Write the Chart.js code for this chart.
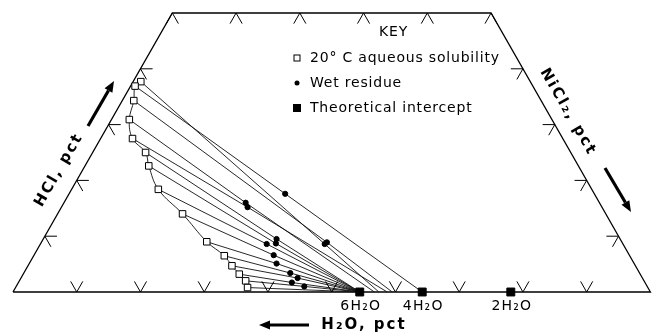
<!DOCTYPE html>
<html>
<head>
<meta charset="utf-8">
<script src="https://cdn.jsdelivr.net/npm/chart.js@4.4.1/dist/chart.umd.min.js"></script>
<style>
  html, body { margin: 0; background: #fff; }
</style>
</head>
<body>
<canvas id="phase" width="657" height="335"></canvas>
<script>
// 20 C aqueous solubility (liquid phase), pct by weight
const liqHCl   = [37.7, 36.9, 34.3, 30.9, 27.5, 25.0, 22.6, 18.4, 14.0, 9.0, 6.5, 4.7, 3.2, 2.0, 0.8];
const liqNiCl2 = [1.2, 0.7, 1.8, 2.8, 5.0, 8.3, 10.0, 13.6, 19.6, 25.9, 29.9, 32.0, 33.9, 35.5, 36.4];

// wet residue for each liquid (null = not shown)
const resHCl   = [8.6, 17.6, 8.9, 16.0, 15.2, 9.5, 8.7, 8.6, 6.6, 5.1, 3.4, 2.5, 1.7, 1.0, null];
const resNiCl2 = [44.6, 33.9, 44.8, 28.5, 29.2, 36.6, 36.9, 35.5, 37.6, 38.8, 41.8, 43.4, 42.9, 45.2, null];

// where each tie line reaches the HCl-free base, NiCl2 pct
const tieEnd = [57.4, 64.2, 59.5, 56.7, 58.7, 54.4, 54.4, 54.4, 54.4, 54.4, 54.4, 54.4, 54.4, 54.4, 54.4];

// theoretical hydrate intercepts
const hydrateLabels = ["6H₂O", "4H₂O", "2H₂O"];
const hydrateNiCl2  = [54.4, 64.2, 78.1];

// tick positions (pct)
const baseTicks = [10, 20, 30, 40, 50, 60, 70, 80, 90];
const topTicks  = [0, 10, 20, 30, 40, 50];
const sideTicks = [10, 20, 30, 40];

const S = Math.sqrt(3) / 2;
// ternary (NiCl2, HCl) -> cartesian, H2O corner at the origin
function pt(ni, hcl) {
  return { x: ni + hcl / 2, y: hcl * S };
}

const datasets = [];

// outline of the diagram, cut at 50 pct HCl
datasets.push({
  data: [pt(0, 0), pt(100, 0), pt(50, 50), pt(0, 50), pt(0, 0)],
  showLine: true, borderColor: "#000", borderWidth: 1.3,
  pointRadius: 0, order: 5
});

// tie lines: liquid -> wet residue -> base intercept
for (let i = 0; i < liqHCl.length; i++) {
  const line = [pt(liqNiCl2[i], liqHCl[i])];
  if (resHCl[i] !== null) line.push(pt(resNiCl2[i], resHCl[i]));
  line.push(pt(tieEnd[i], 0));
  datasets.push({
    data: line, showLine: true, borderColor: "#111", borderWidth: 0.9,
    pointRadius: 0, order: 4
  });
}

// solubility curve with open squares
datasets.push({
  data: liqHCl.map((h, i) => pt(liqNiCl2[i], h)),
  showLine: true, tension: 0.4, borderColor: "#111", borderWidth: 0.9,
  pointStyle: "rect", pointRadius: 4.6, pointBorderWidth: 1,
  pointBackgroundColor: "#fff", pointBorderColor: "#000", order: 1
});

// wet residue dots
datasets.push({
  data: resHCl.map((h, i) => h === null ? null : pt(resNiCl2[i], h)).filter(p => p),
  showLine: false, pointStyle: "circle", pointRadius: 2.6,
  pointBackgroundColor: "#000", pointBorderColor: "#000", order: 1
});

// theoretical intercepts
datasets.push({
  data: hydrateNiCl2.map(n => pt(n, 0)),
  showLine: false, pointStyle: "rect", pointRadius: 5.6,
  pointBackgroundColor: "#000", pointBorderColor: "#000", order: 0
});

function arrow(ctx, x1, y1, x2, y2) {
  const a = Math.atan2(y2 - y1, x2 - x1);
  const hl = 11, hw = 4.5;
  const bx = x2 - hl * Math.cos(a), by = y2 - hl * Math.sin(a);
  ctx.lineWidth = 3.2;
  ctx.beginPath();
  ctx.moveTo(x1, y1);
  ctx.lineTo(bx, by);
  ctx.stroke();
  ctx.beginPath();
  ctx.moveTo(x2, y2);
  ctx.lineTo(bx + hw * Math.sin(a), by - hw * Math.cos(a));
  ctx.lineTo(bx - hw * Math.sin(a), by + hw * Math.cos(a));
  ctx.closePath();
  ctx.fill();
}

const decor = {
  id: "decor",
  afterDatasetsDraw(chart) {
    const ctx = chart.ctx;
    const xs = chart.scales.x, ys = chart.scales.y;
    const px = p => [xs.getPixelForValue(p.x), ys.getPixelForValue(p.y)];
    const t = 1.9;

    ctx.save();
    ctx.strokeStyle = "#000";
    ctx.fillStyle = "#000";
    ctx.lineWidth = 1;

    function chevron(c, a, b) {
      const [cx, cy] = px(c), [ax, ay] = px(a), [bx, by] = px(b);
      ctx.beginPath();
      ctx.moveTo(ax, ay);
      ctx.lineTo(cx, cy);
      ctx.lineTo(bx, by);
      ctx.stroke();
    }
    baseTicks.forEach(v => chevron(pt(v, 0), pt(v - t, t), pt(v, t)));
    topTicks.forEach(v => chevron(pt(v, 50), pt(v, 50 - t), pt(v + t, 50 - t)));
    sideTicks.forEach(h => chevron(pt(0, h), pt(t, h), pt(t, h - t)));
    sideTicks.forEach(h => chevron(pt(100 - h, h), pt(100 - h - t, h), pt(100 - h, h - t)));

    // key
    ctx.font = "14px 'DejaVu Sans'";
    ctx.letterSpacing = "0.8px";
    ctx.textBaseline = "middle";
    ctx.textAlign = "left";
    ctx.fillText("KEY", 379, 32);
    ctx.fillText("20° C aqueous solubility", 310, 58);
    ctx.fillText("Wet residue", 310, 83);
    ctx.fillText("Theoretical intercept", 310, 108);
    ctx.lineWidth = 1;
    ctx.strokeRect(294, 55, 6, 6);
    ctx.beginPath();
    ctx.arc(297, 83, 2.5, 0, Math.PI * 2);
    ctx.fill();
    ctx.fillRect(293, 104, 8, 8);

    // hydrate labels under their intercepts
    ctx.font = "14px 'DejaVu Sans'";
    ctx.letterSpacing = "1.2px";
    ctx.textAlign = "center";
    hydrateLabels.forEach((lab, i) => {
      const [x] = px(pt(hydrateNiCl2[i], 0));
      ctx.fillText(lab, x + 1, 306);
    });

    // axis labels
    ctx.font = "bold 15px 'DejaVu Sans'";
    ctx.letterSpacing = "2px";
    ctx.fillText("H₂O, pct", 364, 325);
    arrow(ctx, 309, 325, 259, 325);

    ctx.save();
    ctx.translate(59, 170);
    ctx.rotate(-Math.PI / 3);
    ctx.fillText("HCl, pct", 0, 0);
    ctx.restore();
    arrow(ctx, 88, 126, 114, 81);

    ctx.save();
    ctx.translate(568, 112);
    ctx.rotate(Math.PI / 3);
    ctx.fillText("NiCl₂, pct", 0, 0);
    ctx.restore();
    arrow(ctx, 605, 168, 631, 212);

    ctx.restore();
  }
};

new Chart(document.getElementById("phase"), {
  type: "scatter",
  data: { datasets: datasets },
  options: {
    responsive: false,
    animation: false,
    devicePixelRatio: 1,
    clip: false,
    layout: { padding: { left: 13, right: 5, top: 13, bottom: 43 } },
    scales: {
      x: { type: "linear", min: 0, max: 100, display: false },
      y: { type: "linear", min: 0, max: 50 * S, display: false }
    },
    plugins: { legend: { display: false }, tooltip: { enabled: false } },
    events: []
  },
  plugins: [decor]
});
</script>
</body>
</html>
